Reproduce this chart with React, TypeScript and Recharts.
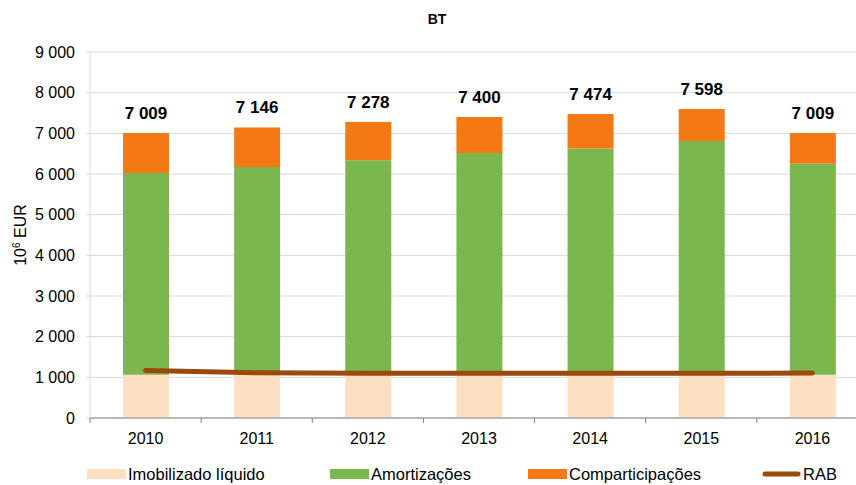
import { ComposedChart, Bar, Line, XAxis, YAxis, CartesianGrid, LabelList } from 'recharts';

const years = ['2010', '2011', '2012', '2013', '2014', '2015', '2016'];
const imobilizado = [1064, 1064, 1064, 1064, 1064, 1064, 1064];
const amortizacoes = [4962, 5107, 5273, 5451, 5565, 5748, 5191];
const comparticipacoes = [983, 975, 941, 885, 845, 786, 754];
const rab = [1170, 1115, 1100, 1100, 1100, 1100, 1105];
const totals = [7009, 7146, 7278, 7400, 7474, 7598, 7009];
const yTicks = [0, 1000, 2000, 3000, 4000, 5000, 6000, 7000, 8000, 9000];

const names = ['Imobilizado líquido', 'Amortizações', 'Comparticipações', 'RAB'];
const colors = ['#FDE0C2', '#7AB74F', '#F47813', '#9A4A0B'];

const data = years.map((y, i) => ({
  year: y,
  imob: imobilizado[i],
  amort: amortizacoes[i],
  comp: comparticipacoes[i],
  rab: rab[i],
  total: totals[i],
}));

const font = '"Liberation Sans", Arial, sans-serif';

const fmt = (v: number) =>
  v >= 1000 ? `${Math.floor(v / 1000)} ${String(v % 1000).padStart(3, '0')}` : String(v);

function XTick(props: any) {
  const { x, y, payload, index } = props;
  const half = payload?.offset ?? 55.5;
  return (
    <g>
      <line x1={x - half} x2={x - half} y1={y} y2={y + 5} stroke="#868686" />
      {index === years.length - 1 && (
        <line x1={x + half} x2={x + half} y1={y} y2={y + 5} stroke="#868686" />
      )}
      <text x={x} y={y + 26} textAnchor="middle" fontSize={16} fill="#000" fontFamily={font}>
        {payload.value}
      </text>
    </g>
  );
}

function TotalLabel(props: any) {
  const { x, y, width, value } = props;
  return (
    <text x={x + width / 2} y={y - 14} textAnchor="middle" fontSize={17} fontWeight="bold" fill="#000" fontFamily={font}>
      {fmt(value)}
    </text>
  );
}

function YLabel(props: any) {
  const vb = props.viewBox || { x: 0, y: 52, height: 366 };
  const cx = vb.x + 26;
  const cy = vb.y + vb.height / 2;
  return (
    <text x={cx} y={cy} transform={`rotate(-90 ${cx} ${cy})`} textAnchor="middle" fontSize={16} fill="#000" fontFamily={font}>
      10<tspan dy={-6} fontSize={10}>6</tspan>
      <tspan dy={6}> EUR</tspan>
    </text>
  );
}

// legend layout
const legendX = [87, 330, 528, 762];

export default function App() {
  return (
    <div style={{ position: 'absolute', left: 0, top: 0, width: 856, height: 485, overflow: 'hidden', background: '#fff' }}>
      <ComposedChart width={880} height={485} data={data} margin={{ top: 52, right: 12, bottom: 37, left: 0 }}>
        <CartesianGrid vertical={false} stroke="#d9d9d9" />
        <XAxis
          dataKey="year"
          interval={0}
          tickLine={false}
          tickSize={0}
          tickMargin={0}
          height={30}
          axisLine={{ stroke: '#868686' }}
          tick={<XTick />}
        />
        <YAxis
          width={90}
          domain={[0, 9000]}
          ticks={yTicks}
          tickFormatter={fmt}
          tickSize={4}
          tickMargin={11}
          axisLine={{ stroke: '#d9d9d9' }}
          tickLine={{ stroke: '#d9d9d9' }}
          tick={{ fontSize: 16, fill: '#000', fontFamily: font }}
          label={{ content: (p: any) => <YLabel {...p} /> }}
        />
        <Bar dataKey="imob" name={names[0]} stackId="a" fill={colors[0]} barSize={46} isAnimationActive={false} />
        <Bar dataKey="amort" name={names[1]} stackId="a" fill={colors[1]} barSize={46} isAnimationActive={false} />
        <Bar dataKey="comp" name={names[2]} stackId="a" fill={colors[2]} barSize={46} isAnimationActive={false}>
          <LabelList dataKey="total" content={<TotalLabel />} />
        </Bar>
        <Line dataKey="rab" name={names[3]} type="monotone" stroke={colors[3]} strokeWidth={5} dot={false} activeDot={false} strokeLinecap="round" isAnimationActive={false} />
      </ComposedChart>
      <svg width={856} height={485} style={{ position: 'absolute', left: 0, top: 0, pointerEvents: 'none' }}>
        <text x={437} y={24} textAnchor="middle" fontSize={14} fontWeight="bold" fill="#000" fontFamily={font}>
          BT
        </text>
        {names.map((n, i) => (
          <g key={n}>
            {i < 3 ? (
              <rect x={legendX[i]} y={469} width={39} height={10} fill={colors[i]} />
            ) : (
              <line x1={legendX[i] + 3} x2={legendX[i] + 36} y1={474} y2={474} stroke={colors[i]} strokeWidth={5} strokeLinecap="round" />
            )}
            <text x={legendX[i] + 41} y={480} fontSize={16.5} fill="#000" fontFamily={font}>
              {n}
            </text>
          </g>
        ))}
      </svg>
    </div>
  );
}
